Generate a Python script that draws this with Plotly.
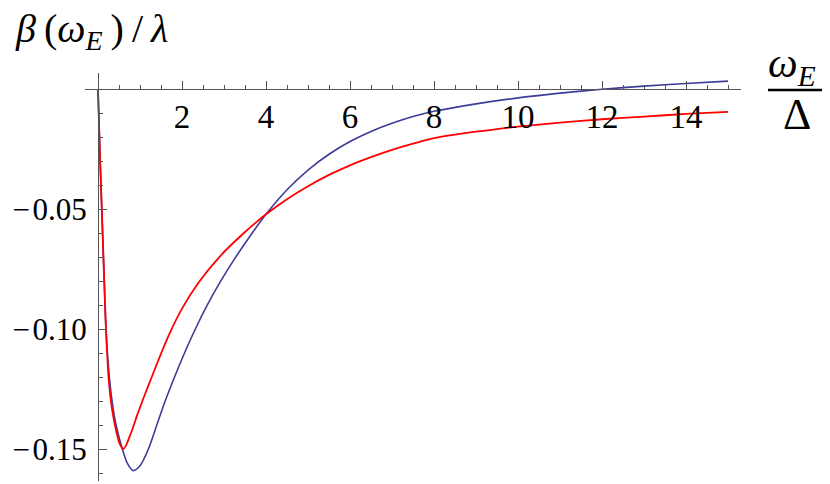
import plotly.graph_objects as go

# curves
blue_x = [0, 0.05, 0.09, 0.14, 0.19, 0.27, 0.35, 0.43, 0.58, 0.7, 0.84, 1.0, 1.2, 1.4, 1.6, 1.83,
          2.06, 2.31, 2.6, 2.9, 3.25, 3.66, 4.0, 4.5, 5.0, 5.5, 6.0, 6.5, 7.0, 7.5, 8.0, 9.0, 10, 11, 12, 13, 14, 15]
blue_y = [0, -0.029, -0.05, -0.075, -0.10, -0.12, -0.132, -0.14, -0.15, -0.156, -0.159, -0.157, -0.15,
          -0.14, -0.13, -0.1197, -0.11, -0.1003, -0.0901, -0.0807, -0.0708, -0.0603, -0.0522, -0.042,
          -0.0338, -0.0272, -0.0219, -0.0177, -0.0143, -0.0115, -0.0093, -0.0062, -0.0037, -0.0017, -0.0001,
          0.0012, 0.0023, 0.0033]

red_x = [0, 0.05, 0.09, 0.14, 0.19, 0.25, 0.33, 0.44, 0.52, 0.60, 0.66, 0.72, 0.84, 0.92, 1.1, 1.28,
         1.5, 1.7, 2.0, 2.4, 2.9, 3.5, 4.0, 4.5, 5.0, 5.5, 6.0, 6.5, 7.0, 7.5, 8.0, 9.0, 10, 11, 12, 13, 14, 15]
red_y = [0, -0.03, -0.05, -0.076, -0.10, -0.12, -0.133, -0.143, -0.148, -0.150, -0.1488, -0.1463,
         -0.1407, -0.1365, -0.128, -0.12, -0.1103, -0.102, -0.0915, -0.0805, -0.0698, -0.0596, -0.0522,
         -0.0459, -0.0405, -0.0358, -0.0318, -0.0284, -0.0254, -0.0228, -0.0205, -0.0178, -0.0157,
         -0.014, -0.0126, -0.0115, -0.0104, -0.0095]

x_ticks = [2, 4, 6, 8, 10, 12, 14]
y_ticks = [-0.05, -0.10, -0.15]
y_tick_text = ["\u2212\u200a0.05", "\u2212\u200a0.10", "\u2212\u200a0.15"]

# the page body has an 8px margin, so the figure is a little smaller
W, H = 822, 476
OFF = 8


def px(x):  # page x pixel -> paper
    return (x - OFF) / W


def py(y):  # page y pixel -> paper
    return (H - (y - OFF)) / H


font = "Liberation Serif, Times New Roman, serif"
axis_col = "#555555"

fig = go.Figure()
fig.add_trace(go.Scatter(x=blue_x, y=blue_y, mode="lines",
                         line=dict(color="#3d3d99", width=1.6, shape="spline", smoothing=0.8)))
fig.add_trace(go.Scatter(x=red_x, y=red_y, mode="lines",
                         line=dict(color="#ff0000", width=1.8, shape="spline", smoothing=0.8)))

fig.update_layout(
    width=W, height=H,
    margin=dict(l=0, r=0, t=0, b=0, autoexpand=False),
    paper_bgcolor="white", plot_bgcolor="white",
    showlegend=False,
    font=dict(family=font, color="black"),
    xaxis=dict(
        domain=[px(85), px(741)], range=[-13 / 42, 643 / 42],
        anchor="free", position=py(89), automargin=False,
        showline=True, linecolor=axis_col, linewidth=1,
        showgrid=False, zeroline=False,
        tickvals=x_ticks, ticks="inside", ticklen=8, tickcolor=axis_col,
        ticklabelstandoff=-2,
        tickfont=dict(size=33, family=font, color="black"),
        minor=dict(dtick=0.5, tick0=0, ticks="inside", ticklen=4, tickcolor=axis_col),
    ),
    yaxis=dict(
        domain=[py(481), py(73)], range=[-(481 - 89) / 2400, (89 - 73) / 2400],
        anchor="free", position=px(98), automargin=False,
        showline=True, linecolor=axis_col, linewidth=1,
        showgrid=False, zeroline=False,
        tickvals=y_ticks, ticktext=y_tick_text, ticks="inside", ticklen=8, tickcolor=axis_col,
        ticklabelstandoff=5,
        tickfont=dict(size=31, family=font, color="black"),
        minor=dict(dtick=0.01, tick0=0, ticks="inside", ticklen=4, tickcolor=axis_col),
    ),
)

# axis titles
fig.add_annotation(xref="paper", yref="paper", x=px(13), y=py(31),
                   xanchor="left", yanchor="middle", showarrow=False,
                   text="<i>β</i>\u2009(<i>ω</i><sub><i>E</i></sub>\u2009)\u2009/\u2009<i>λ</i>",
                   font=dict(size=40, family=font, color="black"))
fig.add_annotation(xref="paper", yref="paper", x=px(766), y=py(66),
                   xanchor="left", yanchor="middle", showarrow=False,
                   text="<i>ω</i><sub><i>E</i></sub>",
                   font=dict(size=42, family=font, color="black"))
fig.add_annotation(xref="paper", yref="paper", x=px(797), y=py(115),
                   xanchor="center", yanchor="middle", showarrow=False,
                   text="Δ", font=dict(size=44, family=font, color="black"))
fig.add_shape(type="line", xref="paper", yref="paper",
              x0=px(768), x1=px(827), y0=py(90), y1=py(90),
              line=dict(color="black", width=2.5))

fig.write_html("out.html")
